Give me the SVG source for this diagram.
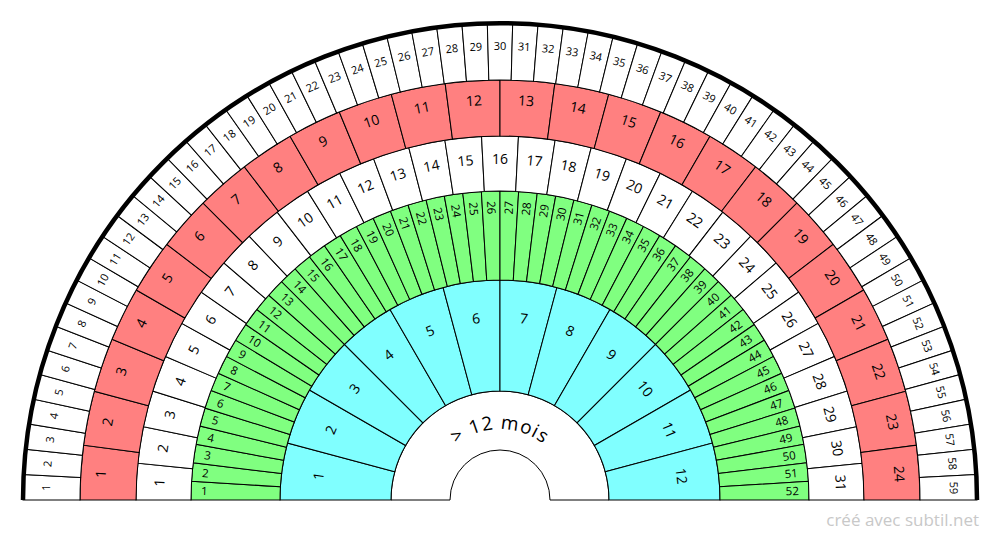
<svg xmlns="http://www.w3.org/2000/svg" width="1000" height="540" viewBox="0 0 1000 540">
<style>
path{stroke:#000;stroke-width:1}
.c path{fill:#80ffff}.g path{fill:#80ff80}.w path{fill:#fff}.r path{fill:#ff8080}.o path{fill:#fff}
#rim{fill:none;stroke:#000;stroke-width:4.5}
text{font-family:"Open Sans","DejaVu Sans",sans-serif;fill:#000}
.c text,.w text,.r text{font-size:14px;text-anchor:middle}
.o text{font-size:11px;text-anchor:middle}
.g text{font-size:11.5px}
.g .L{text-anchor:start}.g .R{text-anchor:end}
#credit{fill:#c8c8c8;font-size:17px;text-anchor:end}
</style>
<defs><path id="tp" d="M-71 0A71 71 0 0 1 71 0" style="fill:none;stroke:none"/></defs>
<g transform="translate(500 500)">
<g id="center"><path d="M-109 0A109 109 0 0 1 109 0L50 0A50 50 0 0 0-50 0Z" style="fill:#fff"/>
<text font-size="19" letter-spacing="1"><textPath href="#tp" startOffset="50%" text-anchor="middle">&gt; 12 mois</textPath></text></g>
<g id="cyan" class="c">
<g id="c1" transform="rotate(-82.5)"><path d="M-14.23-108.07L-28.72-218.12A220 220 0 0 1 28.72-218.12L14.23-108.07A109 109 0 0 0-14.23-108.07Z"/><text y="-178">1</text></g>
<g id="c2" transform="rotate(-67.5)"><path d="M-14.23-108.07L-28.72-218.12A220 220 0 0 1 28.72-218.12L14.23-108.07A109 109 0 0 0-14.23-108.07Z"/><text y="-178">2</text></g>
<g id="c3" transform="rotate(-52.5)"><path d="M-14.23-108.07L-28.72-218.12A220 220 0 0 1 28.72-218.12L14.23-108.07A109 109 0 0 0-14.23-108.07Z"/><text y="-178">3</text></g>
<g id="c4" transform="rotate(-37.5)"><path d="M-14.23-108.07L-28.72-218.12A220 220 0 0 1 28.72-218.12L14.23-108.07A109 109 0 0 0-14.23-108.07Z"/><text y="-178">4</text></g>
<g id="c5" transform="rotate(-22.5)"><path d="M-14.23-108.07L-28.72-218.12A220 220 0 0 1 28.72-218.12L14.23-108.07A109 109 0 0 0-14.23-108.07Z"/><text y="-178">5</text></g>
<g id="c6" transform="rotate(-7.5)"><path d="M-14.23-108.07L-28.72-218.12A220 220 0 0 1 28.72-218.12L14.23-108.07A109 109 0 0 0-14.23-108.07Z"/><text y="-178">6</text></g>
<g id="c7" transform="rotate(7.5)"><path d="M-14.23-108.07L-28.72-218.12A220 220 0 0 1 28.72-218.12L14.23-108.07A109 109 0 0 0-14.23-108.07Z"/><text y="-178">7</text></g>
<g id="c8" transform="rotate(22.5)"><path d="M-14.23-108.07L-28.72-218.12A220 220 0 0 1 28.72-218.12L14.23-108.07A109 109 0 0 0-14.23-108.07Z"/><text y="-178">8</text></g>
<g id="c9" transform="rotate(37.5)"><path d="M-14.23-108.07L-28.72-218.12A220 220 0 0 1 28.72-218.12L14.23-108.07A109 109 0 0 0-14.23-108.07Z"/><text y="-178">9</text></g>
<g id="c10" transform="rotate(52.5)"><path d="M-14.23-108.07L-28.72-218.12A220 220 0 0 1 28.72-218.12L14.23-108.07A109 109 0 0 0-14.23-108.07Z"/><text y="-178">10</text></g>
<g id="c11" transform="rotate(67.5)"><path d="M-14.23-108.07L-28.72-218.12A220 220 0 0 1 28.72-218.12L14.23-108.07A109 109 0 0 0-14.23-108.07Z"/><text y="-178">11</text></g>
<g id="c12" transform="rotate(82.5)"><path d="M-14.23-108.07L-28.72-218.12A220 220 0 0 1 28.72-218.12L14.23-108.07A109 109 0 0 0-14.23-108.07Z"/><text y="-178">12</text></g>
</g>
<g id="green" class="g">
<g id="g1" transform="rotate(-88.27)"><path d="M-6.64-219.90L-9.33-308.86A309 309 0 0 1 9.33-308.86L6.64-219.90A220 220 0 0 0-6.64-219.90Z"/><text class="L" transform="translate(0 -299) rotate(90)" y="4">1</text></g>
<g id="g2" transform="rotate(-84.81)"><path d="M-6.64-219.90L-9.33-308.86A309 309 0 0 1 9.33-308.86L6.64-219.90A220 220 0 0 0-6.64-219.90Z"/><text class="L" transform="translate(0 -299) rotate(90)" y="4">2</text></g>
<g id="g3" transform="rotate(-81.35)"><path d="M-6.64-219.90L-9.33-308.86A309 309 0 0 1 9.33-308.86L6.64-219.90A220 220 0 0 0-6.64-219.90Z"/><text class="L" transform="translate(0 -299) rotate(90)" y="4">3</text></g>
<g id="g4" transform="rotate(-77.88)"><path d="M-6.64-219.90L-9.33-308.86A309 309 0 0 1 9.33-308.86L6.64-219.90A220 220 0 0 0-6.64-219.90Z"/><text class="L" transform="translate(0 -299) rotate(90)" y="4">4</text></g>
<g id="g5" transform="rotate(-74.42)"><path d="M-6.64-219.90L-9.33-308.86A309 309 0 0 1 9.33-308.86L6.64-219.90A220 220 0 0 0-6.64-219.90Z"/><text class="L" transform="translate(0 -299) rotate(90)" y="4">5</text></g>
<g id="g6" transform="rotate(-70.96)"><path d="M-6.64-219.90L-9.33-308.86A309 309 0 0 1 9.33-308.86L6.64-219.90A220 220 0 0 0-6.64-219.90Z"/><text class="L" transform="translate(0 -299) rotate(90)" y="4">6</text></g>
<g id="g7" transform="rotate(-67.5)"><path d="M-6.64-219.90L-9.33-308.86A309 309 0 0 1 9.33-308.86L6.64-219.90A220 220 0 0 0-6.64-219.90Z"/><text class="L" transform="translate(0 -299) rotate(90)" y="4">7</text></g>
<g id="g8" transform="rotate(-64.04)"><path d="M-6.64-219.90L-9.33-308.86A309 309 0 0 1 9.33-308.86L6.64-219.90A220 220 0 0 0-6.64-219.90Z"/><text class="L" transform="translate(0 -299) rotate(90)" y="4">8</text></g>
<g id="g9" transform="rotate(-60.58)"><path d="M-6.64-219.90L-9.33-308.86A309 309 0 0 1 9.33-308.86L6.64-219.90A220 220 0 0 0-6.64-219.90Z"/><text class="L" transform="translate(0 -299) rotate(90)" y="4">9</text></g>
<g id="g10" transform="rotate(-57.12)"><path d="M-6.64-219.90L-9.33-308.86A309 309 0 0 1 9.33-308.86L6.64-219.90A220 220 0 0 0-6.64-219.90Z"/><text class="L" transform="translate(0 -299) rotate(90)" y="4">10</text></g>
<g id="g11" transform="rotate(-53.65)"><path d="M-6.64-219.90L-9.33-308.86A309 309 0 0 1 9.33-308.86L6.64-219.90A220 220 0 0 0-6.64-219.90Z"/><text class="L" transform="translate(0 -299) rotate(90)" y="4">11</text></g>
<g id="g12" transform="rotate(-50.19)"><path d="M-6.64-219.90L-9.33-308.86A309 309 0 0 1 9.33-308.86L6.64-219.90A220 220 0 0 0-6.64-219.90Z"/><text class="L" transform="translate(0 -299) rotate(90)" y="4">12</text></g>
<g id="g13" transform="rotate(-46.73)"><path d="M-6.64-219.90L-9.33-308.86A309 309 0 0 1 9.33-308.86L6.64-219.90A220 220 0 0 0-6.64-219.90Z"/><text class="L" transform="translate(0 -299) rotate(90)" y="4">13</text></g>
<g id="g14" transform="rotate(-43.27)"><path d="M-6.64-219.90L-9.33-308.86A309 309 0 0 1 9.33-308.86L6.64-219.90A220 220 0 0 0-6.64-219.90Z"/><text class="L" transform="translate(0 -299) rotate(90)" y="4">14</text></g>
<g id="g15" transform="rotate(-39.81)"><path d="M-6.64-219.90L-9.33-308.86A309 309 0 0 1 9.33-308.86L6.64-219.90A220 220 0 0 0-6.64-219.90Z"/><text class="L" transform="translate(0 -299) rotate(90)" y="4">15</text></g>
<g id="g16" transform="rotate(-36.35)"><path d="M-6.64-219.90L-9.33-308.86A309 309 0 0 1 9.33-308.86L6.64-219.90A220 220 0 0 0-6.64-219.90Z"/><text class="L" transform="translate(0 -299) rotate(90)" y="4">16</text></g>
<g id="g17" transform="rotate(-32.88)"><path d="M-6.64-219.90L-9.33-308.86A309 309 0 0 1 9.33-308.86L6.64-219.90A220 220 0 0 0-6.64-219.90Z"/><text class="L" transform="translate(0 -299) rotate(90)" y="4">17</text></g>
<g id="g18" transform="rotate(-29.42)"><path d="M-6.64-219.90L-9.33-308.86A309 309 0 0 1 9.33-308.86L6.64-219.90A220 220 0 0 0-6.64-219.90Z"/><text class="L" transform="translate(0 -299) rotate(90)" y="4">18</text></g>
<g id="g19" transform="rotate(-25.96)"><path d="M-6.64-219.90L-9.33-308.86A309 309 0 0 1 9.33-308.86L6.64-219.90A220 220 0 0 0-6.64-219.90Z"/><text class="L" transform="translate(0 -299) rotate(90)" y="4">19</text></g>
<g id="g20" transform="rotate(-22.5)"><path d="M-6.64-219.90L-9.33-308.86A309 309 0 0 1 9.33-308.86L6.64-219.90A220 220 0 0 0-6.64-219.90Z"/><text class="L" transform="translate(0 -299) rotate(90)" y="4">20</text></g>
<g id="g21" transform="rotate(-19.04)"><path d="M-6.64-219.90L-9.33-308.86A309 309 0 0 1 9.33-308.86L6.64-219.90A220 220 0 0 0-6.64-219.90Z"/><text class="L" transform="translate(0 -299) rotate(90)" y="4">21</text></g>
<g id="g22" transform="rotate(-15.58)"><path d="M-6.64-219.90L-9.33-308.86A309 309 0 0 1 9.33-308.86L6.64-219.90A220 220 0 0 0-6.64-219.90Z"/><text class="L" transform="translate(0 -299) rotate(90)" y="4">22</text></g>
<g id="g23" transform="rotate(-12.12)"><path d="M-6.64-219.90L-9.33-308.86A309 309 0 0 1 9.33-308.86L6.64-219.90A220 220 0 0 0-6.64-219.90Z"/><text class="L" transform="translate(0 -299) rotate(90)" y="4">23</text></g>
<g id="g24" transform="rotate(-8.65)"><path d="M-6.64-219.90L-9.33-308.86A309 309 0 0 1 9.33-308.86L6.64-219.90A220 220 0 0 0-6.64-219.90Z"/><text class="L" transform="translate(0 -299) rotate(90)" y="4">24</text></g>
<g id="g25" transform="rotate(-5.19)"><path d="M-6.64-219.90L-9.33-308.86A309 309 0 0 1 9.33-308.86L6.64-219.90A220 220 0 0 0-6.64-219.90Z"/><text class="L" transform="translate(0 -299) rotate(90)" y="4">25</text></g>
<g id="g26" transform="rotate(-1.73)"><path d="M-6.64-219.90L-9.33-308.86A309 309 0 0 1 9.33-308.86L6.64-219.90A220 220 0 0 0-6.64-219.90Z"/><text class="L" transform="translate(0 -299) rotate(90)" y="4">26</text></g>
<g id="g27" transform="rotate(1.73)"><path d="M-6.64-219.90L-9.33-308.86A309 309 0 0 1 9.33-308.86L6.64-219.90A220 220 0 0 0-6.64-219.90Z"/><text class="R" transform="translate(0 -299) rotate(-90)" y="4">27</text></g>
<g id="g28" transform="rotate(5.19)"><path d="M-6.64-219.90L-9.33-308.86A309 309 0 0 1 9.33-308.86L6.64-219.90A220 220 0 0 0-6.64-219.90Z"/><text class="R" transform="translate(0 -299) rotate(-90)" y="4">28</text></g>
<g id="g29" transform="rotate(8.65)"><path d="M-6.64-219.90L-9.33-308.86A309 309 0 0 1 9.33-308.86L6.64-219.90A220 220 0 0 0-6.64-219.90Z"/><text class="R" transform="translate(0 -299) rotate(-90)" y="4">29</text></g>
<g id="g30" transform="rotate(12.12)"><path d="M-6.64-219.90L-9.33-308.86A309 309 0 0 1 9.33-308.86L6.64-219.90A220 220 0 0 0-6.64-219.90Z"/><text class="R" transform="translate(0 -299) rotate(-90)" y="4">30</text></g>
<g id="g31" transform="rotate(15.58)"><path d="M-6.64-219.90L-9.33-308.86A309 309 0 0 1 9.33-308.86L6.64-219.90A220 220 0 0 0-6.64-219.90Z"/><text class="R" transform="translate(0 -299) rotate(-90)" y="4">31</text></g>
<g id="g32" transform="rotate(19.04)"><path d="M-6.64-219.90L-9.33-308.86A309 309 0 0 1 9.33-308.86L6.64-219.90A220 220 0 0 0-6.64-219.90Z"/><text class="R" transform="translate(0 -299) rotate(-90)" y="4">32</text></g>
<g id="g33" transform="rotate(22.5)"><path d="M-6.64-219.90L-9.33-308.86A309 309 0 0 1 9.33-308.86L6.64-219.90A220 220 0 0 0-6.64-219.90Z"/><text class="R" transform="translate(0 -299) rotate(-90)" y="4">33</text></g>
<g id="g34" transform="rotate(25.96)"><path d="M-6.64-219.90L-9.33-308.86A309 309 0 0 1 9.33-308.86L6.64-219.90A220 220 0 0 0-6.64-219.90Z"/><text class="R" transform="translate(0 -299) rotate(-90)" y="4">34</text></g>
<g id="g35" transform="rotate(29.42)"><path d="M-6.64-219.90L-9.33-308.86A309 309 0 0 1 9.33-308.86L6.64-219.90A220 220 0 0 0-6.64-219.90Z"/><text class="R" transform="translate(0 -299) rotate(-90)" y="4">35</text></g>
<g id="g36" transform="rotate(32.88)"><path d="M-6.64-219.90L-9.33-308.86A309 309 0 0 1 9.33-308.86L6.64-219.90A220 220 0 0 0-6.64-219.90Z"/><text class="R" transform="translate(0 -299) rotate(-90)" y="4">36</text></g>
<g id="g37" transform="rotate(36.35)"><path d="M-6.64-219.90L-9.33-308.86A309 309 0 0 1 9.33-308.86L6.64-219.90A220 220 0 0 0-6.64-219.90Z"/><text class="R" transform="translate(0 -299) rotate(-90)" y="4">37</text></g>
<g id="g38" transform="rotate(39.81)"><path d="M-6.64-219.90L-9.33-308.86A309 309 0 0 1 9.33-308.86L6.64-219.90A220 220 0 0 0-6.64-219.90Z"/><text class="R" transform="translate(0 -299) rotate(-90)" y="4">38</text></g>
<g id="g39" transform="rotate(43.27)"><path d="M-6.64-219.90L-9.33-308.86A309 309 0 0 1 9.33-308.86L6.64-219.90A220 220 0 0 0-6.64-219.90Z"/><text class="R" transform="translate(0 -299) rotate(-90)" y="4">39</text></g>
<g id="g40" transform="rotate(46.73)"><path d="M-6.64-219.90L-9.33-308.86A309 309 0 0 1 9.33-308.86L6.64-219.90A220 220 0 0 0-6.64-219.90Z"/><text class="R" transform="translate(0 -299) rotate(-90)" y="4">40</text></g>
<g id="g41" transform="rotate(50.19)"><path d="M-6.64-219.90L-9.33-308.86A309 309 0 0 1 9.33-308.86L6.64-219.90A220 220 0 0 0-6.64-219.90Z"/><text class="R" transform="translate(0 -299) rotate(-90)" y="4">41</text></g>
<g id="g42" transform="rotate(53.65)"><path d="M-6.64-219.90L-9.33-308.86A309 309 0 0 1 9.33-308.86L6.64-219.90A220 220 0 0 0-6.64-219.90Z"/><text class="R" transform="translate(0 -299) rotate(-90)" y="4">42</text></g>
<g id="g43" transform="rotate(57.12)"><path d="M-6.64-219.90L-9.33-308.86A309 309 0 0 1 9.33-308.86L6.64-219.90A220 220 0 0 0-6.64-219.90Z"/><text class="R" transform="translate(0 -299) rotate(-90)" y="4">43</text></g>
<g id="g44" transform="rotate(60.58)"><path d="M-6.64-219.90L-9.33-308.86A309 309 0 0 1 9.33-308.86L6.64-219.90A220 220 0 0 0-6.64-219.90Z"/><text class="R" transform="translate(0 -299) rotate(-90)" y="4">44</text></g>
<g id="g45" transform="rotate(64.04)"><path d="M-6.64-219.90L-9.33-308.86A309 309 0 0 1 9.33-308.86L6.64-219.90A220 220 0 0 0-6.64-219.90Z"/><text class="R" transform="translate(0 -299) rotate(-90)" y="4">45</text></g>
<g id="g46" transform="rotate(67.5)"><path d="M-6.64-219.90L-9.33-308.86A309 309 0 0 1 9.33-308.86L6.64-219.90A220 220 0 0 0-6.64-219.90Z"/><text class="R" transform="translate(0 -299) rotate(-90)" y="4">46</text></g>
<g id="g47" transform="rotate(70.96)"><path d="M-6.64-219.90L-9.33-308.86A309 309 0 0 1 9.33-308.86L6.64-219.90A220 220 0 0 0-6.64-219.90Z"/><text class="R" transform="translate(0 -299) rotate(-90)" y="4">47</text></g>
<g id="g48" transform="rotate(74.42)"><path d="M-6.64-219.90L-9.33-308.86A309 309 0 0 1 9.33-308.86L6.64-219.90A220 220 0 0 0-6.64-219.90Z"/><text class="R" transform="translate(0 -299) rotate(-90)" y="4">48</text></g>
<g id="g49" transform="rotate(77.88)"><path d="M-6.64-219.90L-9.33-308.86A309 309 0 0 1 9.33-308.86L6.64-219.90A220 220 0 0 0-6.64-219.90Z"/><text class="R" transform="translate(0 -299) rotate(-90)" y="4">49</text></g>
<g id="g50" transform="rotate(81.35)"><path d="M-6.64-219.90L-9.33-308.86A309 309 0 0 1 9.33-308.86L6.64-219.90A220 220 0 0 0-6.64-219.90Z"/><text class="R" transform="translate(0 -299) rotate(-90)" y="4">50</text></g>
<g id="g51" transform="rotate(84.81)"><path d="M-6.64-219.90L-9.33-308.86A309 309 0 0 1 9.33-308.86L6.64-219.90A220 220 0 0 0-6.64-219.90Z"/><text class="R" transform="translate(0 -299) rotate(-90)" y="4">51</text></g>
<g id="g52" transform="rotate(88.27)"><path d="M-6.64-219.90L-9.33-308.86A309 309 0 0 1 9.33-308.86L6.64-219.90A220 220 0 0 0-6.64-219.90Z"/><text class="R" transform="translate(0 -299) rotate(-90)" y="4">52</text></g>
</g>
<g id="white31" class="w">
<g id="w1" transform="rotate(-87.10)"><path d="M-15.65-308.60L-18.44-363.53A364 364 0 0 1 18.44-363.53L15.65-308.60A309 309 0 0 0-15.65-308.60Z"/><text y="-336">1</text></g>
<g id="w2" transform="rotate(-81.29)"><path d="M-15.65-308.60L-18.44-363.53A364 364 0 0 1 18.44-363.53L15.65-308.60A309 309 0 0 0-15.65-308.60Z"/><text y="-336">2</text></g>
<g id="w3" transform="rotate(-75.48)"><path d="M-15.65-308.60L-18.44-363.53A364 364 0 0 1 18.44-363.53L15.65-308.60A309 309 0 0 0-15.65-308.60Z"/><text y="-336">3</text></g>
<g id="w4" transform="rotate(-69.68)"><path d="M-15.65-308.60L-18.44-363.53A364 364 0 0 1 18.44-363.53L15.65-308.60A309 309 0 0 0-15.65-308.60Z"/><text y="-336">4</text></g>
<g id="w5" transform="rotate(-63.87)"><path d="M-15.65-308.60L-18.44-363.53A364 364 0 0 1 18.44-363.53L15.65-308.60A309 309 0 0 0-15.65-308.60Z"/><text y="-336">5</text></g>
<g id="w6" transform="rotate(-58.06)"><path d="M-15.65-308.60L-18.44-363.53A364 364 0 0 1 18.44-363.53L15.65-308.60A309 309 0 0 0-15.65-308.60Z"/><text y="-336">6</text></g>
<g id="w7" transform="rotate(-52.26)"><path d="M-15.65-308.60L-18.44-363.53A364 364 0 0 1 18.44-363.53L15.65-308.60A309 309 0 0 0-15.65-308.60Z"/><text y="-336">7</text></g>
<g id="w8" transform="rotate(-46.45)"><path d="M-15.65-308.60L-18.44-363.53A364 364 0 0 1 18.44-363.53L15.65-308.60A309 309 0 0 0-15.65-308.60Z"/><text y="-336">8</text></g>
<g id="w9" transform="rotate(-40.65)"><path d="M-15.65-308.60L-18.44-363.53A364 364 0 0 1 18.44-363.53L15.65-308.60A309 309 0 0 0-15.65-308.60Z"/><text y="-336">9</text></g>
<g id="w10" transform="rotate(-34.84)"><path d="M-15.65-308.60L-18.44-363.53A364 364 0 0 1 18.44-363.53L15.65-308.60A309 309 0 0 0-15.65-308.60Z"/><text y="-336">10</text></g>
<g id="w11" transform="rotate(-29.03)"><path d="M-15.65-308.60L-18.44-363.53A364 364 0 0 1 18.44-363.53L15.65-308.60A309 309 0 0 0-15.65-308.60Z"/><text y="-336">11</text></g>
<g id="w12" transform="rotate(-23.23)"><path d="M-15.65-308.60L-18.44-363.53A364 364 0 0 1 18.44-363.53L15.65-308.60A309 309 0 0 0-15.65-308.60Z"/><text y="-336">12</text></g>
<g id="w13" transform="rotate(-17.42)"><path d="M-15.65-308.60L-18.44-363.53A364 364 0 0 1 18.44-363.53L15.65-308.60A309 309 0 0 0-15.65-308.60Z"/><text y="-336">13</text></g>
<g id="w14" transform="rotate(-11.61)"><path d="M-15.65-308.60L-18.44-363.53A364 364 0 0 1 18.44-363.53L15.65-308.60A309 309 0 0 0-15.65-308.60Z"/><text y="-336">14</text></g>
<g id="w15" transform="rotate(-5.81)"><path d="M-15.65-308.60L-18.44-363.53A364 364 0 0 1 18.44-363.53L15.65-308.60A309 309 0 0 0-15.65-308.60Z"/><text y="-336">15</text></g>
<g id="w16" transform="rotate(0)"><path d="M-15.65-308.60L-18.44-363.53A364 364 0 0 1 18.44-363.53L15.65-308.60A309 309 0 0 0-15.65-308.60Z"/><text y="-336">16</text></g>
<g id="w17" transform="rotate(5.81)"><path d="M-15.65-308.60L-18.44-363.53A364 364 0 0 1 18.44-363.53L15.65-308.60A309 309 0 0 0-15.65-308.60Z"/><text y="-336">17</text></g>
<g id="w18" transform="rotate(11.61)"><path d="M-15.65-308.60L-18.44-363.53A364 364 0 0 1 18.44-363.53L15.65-308.60A309 309 0 0 0-15.65-308.60Z"/><text y="-336">18</text></g>
<g id="w19" transform="rotate(17.42)"><path d="M-15.65-308.60L-18.44-363.53A364 364 0 0 1 18.44-363.53L15.65-308.60A309 309 0 0 0-15.65-308.60Z"/><text y="-336">19</text></g>
<g id="w20" transform="rotate(23.23)"><path d="M-15.65-308.60L-18.44-363.53A364 364 0 0 1 18.44-363.53L15.65-308.60A309 309 0 0 0-15.65-308.60Z"/><text y="-336">20</text></g>
<g id="w21" transform="rotate(29.03)"><path d="M-15.65-308.60L-18.44-363.53A364 364 0 0 1 18.44-363.53L15.65-308.60A309 309 0 0 0-15.65-308.60Z"/><text y="-336">21</text></g>
<g id="w22" transform="rotate(34.84)"><path d="M-15.65-308.60L-18.44-363.53A364 364 0 0 1 18.44-363.53L15.65-308.60A309 309 0 0 0-15.65-308.60Z"/><text y="-336">22</text></g>
<g id="w23" transform="rotate(40.65)"><path d="M-15.65-308.60L-18.44-363.53A364 364 0 0 1 18.44-363.53L15.65-308.60A309 309 0 0 0-15.65-308.60Z"/><text y="-336">23</text></g>
<g id="w24" transform="rotate(46.45)"><path d="M-15.65-308.60L-18.44-363.53A364 364 0 0 1 18.44-363.53L15.65-308.60A309 309 0 0 0-15.65-308.60Z"/><text y="-336">24</text></g>
<g id="w25" transform="rotate(52.26)"><path d="M-15.65-308.60L-18.44-363.53A364 364 0 0 1 18.44-363.53L15.65-308.60A309 309 0 0 0-15.65-308.60Z"/><text y="-336">25</text></g>
<g id="w26" transform="rotate(58.06)"><path d="M-15.65-308.60L-18.44-363.53A364 364 0 0 1 18.44-363.53L15.65-308.60A309 309 0 0 0-15.65-308.60Z"/><text y="-336">26</text></g>
<g id="w27" transform="rotate(63.87)"><path d="M-15.65-308.60L-18.44-363.53A364 364 0 0 1 18.44-363.53L15.65-308.60A309 309 0 0 0-15.65-308.60Z"/><text y="-336">27</text></g>
<g id="w28" transform="rotate(69.68)"><path d="M-15.65-308.60L-18.44-363.53A364 364 0 0 1 18.44-363.53L15.65-308.60A309 309 0 0 0-15.65-308.60Z"/><text y="-336">28</text></g>
<g id="w29" transform="rotate(75.48)"><path d="M-15.65-308.60L-18.44-363.53A364 364 0 0 1 18.44-363.53L15.65-308.60A309 309 0 0 0-15.65-308.60Z"/><text y="-336">29</text></g>
<g id="w30" transform="rotate(81.29)"><path d="M-15.65-308.60L-18.44-363.53A364 364 0 0 1 18.44-363.53L15.65-308.60A309 309 0 0 0-15.65-308.60Z"/><text y="-336">30</text></g>
<g id="w31" transform="rotate(87.10)"><path d="M-15.65-308.60L-18.44-363.53A364 364 0 0 1 18.44-363.53L15.65-308.60A309 309 0 0 0-15.65-308.60Z"/><text y="-336">31</text></g>
</g>
<g id="red" class="r">
<g id="r1" transform="rotate(-86.25)"><path d="M-23.81-363.22L-27.47-419.10A420 420 0 0 1 27.47-419.10L23.81-363.22A364 364 0 0 0-23.81-363.22Z"/><text y="-395">1</text></g>
<g id="r2" transform="rotate(-78.75)"><path d="M-23.81-363.22L-27.47-419.10A420 420 0 0 1 27.47-419.10L23.81-363.22A364 364 0 0 0-23.81-363.22Z"/><text y="-395">2</text></g>
<g id="r3" transform="rotate(-71.25)"><path d="M-23.81-363.22L-27.47-419.10A420 420 0 0 1 27.47-419.10L23.81-363.22A364 364 0 0 0-23.81-363.22Z"/><text y="-395">3</text></g>
<g id="r4" transform="rotate(-63.75)"><path d="M-23.81-363.22L-27.47-419.10A420 420 0 0 1 27.47-419.10L23.81-363.22A364 364 0 0 0-23.81-363.22Z"/><text y="-395">4</text></g>
<g id="r5" transform="rotate(-56.25)"><path d="M-23.81-363.22L-27.47-419.10A420 420 0 0 1 27.47-419.10L23.81-363.22A364 364 0 0 0-23.81-363.22Z"/><text y="-395">5</text></g>
<g id="r6" transform="rotate(-48.75)"><path d="M-23.81-363.22L-27.47-419.10A420 420 0 0 1 27.47-419.10L23.81-363.22A364 364 0 0 0-23.81-363.22Z"/><text y="-395">6</text></g>
<g id="r7" transform="rotate(-41.25)"><path d="M-23.81-363.22L-27.47-419.10A420 420 0 0 1 27.47-419.10L23.81-363.22A364 364 0 0 0-23.81-363.22Z"/><text y="-395">7</text></g>
<g id="r8" transform="rotate(-33.75)"><path d="M-23.81-363.22L-27.47-419.10A420 420 0 0 1 27.47-419.10L23.81-363.22A364 364 0 0 0-23.81-363.22Z"/><text y="-395">8</text></g>
<g id="r9" transform="rotate(-26.25)"><path d="M-23.81-363.22L-27.47-419.10A420 420 0 0 1 27.47-419.10L23.81-363.22A364 364 0 0 0-23.81-363.22Z"/><text y="-395">9</text></g>
<g id="r10" transform="rotate(-18.75)"><path d="M-23.81-363.22L-27.47-419.10A420 420 0 0 1 27.47-419.10L23.81-363.22A364 364 0 0 0-23.81-363.22Z"/><text y="-395">10</text></g>
<g id="r11" transform="rotate(-11.25)"><path d="M-23.81-363.22L-27.47-419.10A420 420 0 0 1 27.47-419.10L23.81-363.22A364 364 0 0 0-23.81-363.22Z"/><text y="-395">11</text></g>
<g id="r12" transform="rotate(-3.75)"><path d="M-23.81-363.22L-27.47-419.10A420 420 0 0 1 27.47-419.10L23.81-363.22A364 364 0 0 0-23.81-363.22Z"/><text y="-395">12</text></g>
<g id="r13" transform="rotate(3.75)"><path d="M-23.81-363.22L-27.47-419.10A420 420 0 0 1 27.47-419.10L23.81-363.22A364 364 0 0 0-23.81-363.22Z"/><text y="-395">13</text></g>
<g id="r14" transform="rotate(11.25)"><path d="M-23.81-363.22L-27.47-419.10A420 420 0 0 1 27.47-419.10L23.81-363.22A364 364 0 0 0-23.81-363.22Z"/><text y="-395">14</text></g>
<g id="r15" transform="rotate(18.75)"><path d="M-23.81-363.22L-27.47-419.10A420 420 0 0 1 27.47-419.10L23.81-363.22A364 364 0 0 0-23.81-363.22Z"/><text y="-395">15</text></g>
<g id="r16" transform="rotate(26.25)"><path d="M-23.81-363.22L-27.47-419.10A420 420 0 0 1 27.47-419.10L23.81-363.22A364 364 0 0 0-23.81-363.22Z"/><text y="-395">16</text></g>
<g id="r17" transform="rotate(33.75)"><path d="M-23.81-363.22L-27.47-419.10A420 420 0 0 1 27.47-419.10L23.81-363.22A364 364 0 0 0-23.81-363.22Z"/><text y="-395">17</text></g>
<g id="r18" transform="rotate(41.25)"><path d="M-23.81-363.22L-27.47-419.10A420 420 0 0 1 27.47-419.10L23.81-363.22A364 364 0 0 0-23.81-363.22Z"/><text y="-395">18</text></g>
<g id="r19" transform="rotate(48.75)"><path d="M-23.81-363.22L-27.47-419.10A420 420 0 0 1 27.47-419.10L23.81-363.22A364 364 0 0 0-23.81-363.22Z"/><text y="-395">19</text></g>
<g id="r20" transform="rotate(56.25)"><path d="M-23.81-363.22L-27.47-419.10A420 420 0 0 1 27.47-419.10L23.81-363.22A364 364 0 0 0-23.81-363.22Z"/><text y="-395">20</text></g>
<g id="r21" transform="rotate(63.75)"><path d="M-23.81-363.22L-27.47-419.10A420 420 0 0 1 27.47-419.10L23.81-363.22A364 364 0 0 0-23.81-363.22Z"/><text y="-395">21</text></g>
<g id="r22" transform="rotate(71.25)"><path d="M-23.81-363.22L-27.47-419.10A420 420 0 0 1 27.47-419.10L23.81-363.22A364 364 0 0 0-23.81-363.22Z"/><text y="-395">22</text></g>
<g id="r23" transform="rotate(78.75)"><path d="M-23.81-363.22L-27.47-419.10A420 420 0 0 1 27.47-419.10L23.81-363.22A364 364 0 0 0-23.81-363.22Z"/><text y="-395">23</text></g>
<g id="r24" transform="rotate(86.25)"><path d="M-23.81-363.22L-27.47-419.10A420 420 0 0 1 27.47-419.10L23.81-363.22A364 364 0 0 0-23.81-363.22Z"/><text y="-395">24</text></g>
</g>
<g id="outer" class="o">
<g id="o1" transform="rotate(-88.47)"><path d="M-11.18-419.85L-12.70-476.83A477 477 0 0 1 12.70-476.83L11.18-419.85A420 420 0 0 0-11.18-419.85Z"/><text y="-450">1</text></g>
<g id="o2" transform="rotate(-85.42)"><path d="M-11.18-419.85L-12.70-476.83A477 477 0 0 1 12.70-476.83L11.18-419.85A420 420 0 0 0-11.18-419.85Z"/><text y="-450">2</text></g>
<g id="o3" transform="rotate(-82.37)"><path d="M-11.18-419.85L-12.70-476.83A477 477 0 0 1 12.70-476.83L11.18-419.85A420 420 0 0 0-11.18-419.85Z"/><text y="-450">3</text></g>
<g id="o4" transform="rotate(-79.32)"><path d="M-11.18-419.85L-12.70-476.83A477 477 0 0 1 12.70-476.83L11.18-419.85A420 420 0 0 0-11.18-419.85Z"/><text y="-450">4</text></g>
<g id="o5" transform="rotate(-76.27)"><path d="M-11.18-419.85L-12.70-476.83A477 477 0 0 1 12.70-476.83L11.18-419.85A420 420 0 0 0-11.18-419.85Z"/><text y="-450">5</text></g>
<g id="o6" transform="rotate(-73.22)"><path d="M-11.18-419.85L-12.70-476.83A477 477 0 0 1 12.70-476.83L11.18-419.85A420 420 0 0 0-11.18-419.85Z"/><text y="-450">6</text></g>
<g id="o7" transform="rotate(-70.17)"><path d="M-11.18-419.85L-12.70-476.83A477 477 0 0 1 12.70-476.83L11.18-419.85A420 420 0 0 0-11.18-419.85Z"/><text y="-450">7</text></g>
<g id="o8" transform="rotate(-67.12)"><path d="M-11.18-419.85L-12.70-476.83A477 477 0 0 1 12.70-476.83L11.18-419.85A420 420 0 0 0-11.18-419.85Z"/><text y="-450">8</text></g>
<g id="o9" transform="rotate(-64.07)"><path d="M-11.18-419.85L-12.70-476.83A477 477 0 0 1 12.70-476.83L11.18-419.85A420 420 0 0 0-11.18-419.85Z"/><text y="-450">9</text></g>
<g id="o10" transform="rotate(-61.02)"><path d="M-11.18-419.85L-12.70-476.83A477 477 0 0 1 12.70-476.83L11.18-419.85A420 420 0 0 0-11.18-419.85Z"/><text y="-450">10</text></g>
<g id="o11" transform="rotate(-57.97)"><path d="M-11.18-419.85L-12.70-476.83A477 477 0 0 1 12.70-476.83L11.18-419.85A420 420 0 0 0-11.18-419.85Z"/><text y="-450">11</text></g>
<g id="o12" transform="rotate(-54.92)"><path d="M-11.18-419.85L-12.70-476.83A477 477 0 0 1 12.70-476.83L11.18-419.85A420 420 0 0 0-11.18-419.85Z"/><text y="-450">12</text></g>
<g id="o13" transform="rotate(-51.86)"><path d="M-11.18-419.85L-12.70-476.83A477 477 0 0 1 12.70-476.83L11.18-419.85A420 420 0 0 0-11.18-419.85Z"/><text y="-450">13</text></g>
<g id="o14" transform="rotate(-48.81)"><path d="M-11.18-419.85L-12.70-476.83A477 477 0 0 1 12.70-476.83L11.18-419.85A420 420 0 0 0-11.18-419.85Z"/><text y="-450">14</text></g>
<g id="o15" transform="rotate(-45.76)"><path d="M-11.18-419.85L-12.70-476.83A477 477 0 0 1 12.70-476.83L11.18-419.85A420 420 0 0 0-11.18-419.85Z"/><text y="-450">15</text></g>
<g id="o16" transform="rotate(-42.71)"><path d="M-11.18-419.85L-12.70-476.83A477 477 0 0 1 12.70-476.83L11.18-419.85A420 420 0 0 0-11.18-419.85Z"/><text y="-450">16</text></g>
<g id="o17" transform="rotate(-39.66)"><path d="M-11.18-419.85L-12.70-476.83A477 477 0 0 1 12.70-476.83L11.18-419.85A420 420 0 0 0-11.18-419.85Z"/><text y="-450">17</text></g>
<g id="o18" transform="rotate(-36.61)"><path d="M-11.18-419.85L-12.70-476.83A477 477 0 0 1 12.70-476.83L11.18-419.85A420 420 0 0 0-11.18-419.85Z"/><text y="-450">18</text></g>
<g id="o19" transform="rotate(-33.56)"><path d="M-11.18-419.85L-12.70-476.83A477 477 0 0 1 12.70-476.83L11.18-419.85A420 420 0 0 0-11.18-419.85Z"/><text y="-450">19</text></g>
<g id="o20" transform="rotate(-30.51)"><path d="M-11.18-419.85L-12.70-476.83A477 477 0 0 1 12.70-476.83L11.18-419.85A420 420 0 0 0-11.18-419.85Z"/><text y="-450">20</text></g>
<g id="o21" transform="rotate(-27.46)"><path d="M-11.18-419.85L-12.70-476.83A477 477 0 0 1 12.70-476.83L11.18-419.85A420 420 0 0 0-11.18-419.85Z"/><text y="-450">21</text></g>
<g id="o22" transform="rotate(-24.41)"><path d="M-11.18-419.85L-12.70-476.83A477 477 0 0 1 12.70-476.83L11.18-419.85A420 420 0 0 0-11.18-419.85Z"/><text y="-450">22</text></g>
<g id="o23" transform="rotate(-21.36)"><path d="M-11.18-419.85L-12.70-476.83A477 477 0 0 1 12.70-476.83L11.18-419.85A420 420 0 0 0-11.18-419.85Z"/><text y="-450">23</text></g>
<g id="o24" transform="rotate(-18.31)"><path d="M-11.18-419.85L-12.70-476.83A477 477 0 0 1 12.70-476.83L11.18-419.85A420 420 0 0 0-11.18-419.85Z"/><text y="-450">24</text></g>
<g id="o25" transform="rotate(-15.25)"><path d="M-11.18-419.85L-12.70-476.83A477 477 0 0 1 12.70-476.83L11.18-419.85A420 420 0 0 0-11.18-419.85Z"/><text y="-450">25</text></g>
<g id="o26" transform="rotate(-12.20)"><path d="M-11.18-419.85L-12.70-476.83A477 477 0 0 1 12.70-476.83L11.18-419.85A420 420 0 0 0-11.18-419.85Z"/><text y="-450">26</text></g>
<g id="o27" transform="rotate(-9.15)"><path d="M-11.18-419.85L-12.70-476.83A477 477 0 0 1 12.70-476.83L11.18-419.85A420 420 0 0 0-11.18-419.85Z"/><text y="-450">27</text></g>
<g id="o28" transform="rotate(-6.10)"><path d="M-11.18-419.85L-12.70-476.83A477 477 0 0 1 12.70-476.83L11.18-419.85A420 420 0 0 0-11.18-419.85Z"/><text y="-450">28</text></g>
<g id="o29" transform="rotate(-3.05)"><path d="M-11.18-419.85L-12.70-476.83A477 477 0 0 1 12.70-476.83L11.18-419.85A420 420 0 0 0-11.18-419.85Z"/><text y="-450">29</text></g>
<g id="o30" transform="rotate(0)"><path d="M-11.18-419.85L-12.70-476.83A477 477 0 0 1 12.70-476.83L11.18-419.85A420 420 0 0 0-11.18-419.85Z"/><text y="-450">30</text></g>
<g id="o31" transform="rotate(3.05)"><path d="M-11.18-419.85L-12.70-476.83A477 477 0 0 1 12.70-476.83L11.18-419.85A420 420 0 0 0-11.18-419.85Z"/><text y="-450">31</text></g>
<g id="o32" transform="rotate(6.10)"><path d="M-11.18-419.85L-12.70-476.83A477 477 0 0 1 12.70-476.83L11.18-419.85A420 420 0 0 0-11.18-419.85Z"/><text y="-450">32</text></g>
<g id="o33" transform="rotate(9.15)"><path d="M-11.18-419.85L-12.70-476.83A477 477 0 0 1 12.70-476.83L11.18-419.85A420 420 0 0 0-11.18-419.85Z"/><text y="-450">33</text></g>
<g id="o34" transform="rotate(12.20)"><path d="M-11.18-419.85L-12.70-476.83A477 477 0 0 1 12.70-476.83L11.18-419.85A420 420 0 0 0-11.18-419.85Z"/><text y="-450">34</text></g>
<g id="o35" transform="rotate(15.25)"><path d="M-11.18-419.85L-12.70-476.83A477 477 0 0 1 12.70-476.83L11.18-419.85A420 420 0 0 0-11.18-419.85Z"/><text y="-450">35</text></g>
<g id="o36" transform="rotate(18.31)"><path d="M-11.18-419.85L-12.70-476.83A477 477 0 0 1 12.70-476.83L11.18-419.85A420 420 0 0 0-11.18-419.85Z"/><text y="-450">36</text></g>
<g id="o37" transform="rotate(21.36)"><path d="M-11.18-419.85L-12.70-476.83A477 477 0 0 1 12.70-476.83L11.18-419.85A420 420 0 0 0-11.18-419.85Z"/><text y="-450">37</text></g>
<g id="o38" transform="rotate(24.41)"><path d="M-11.18-419.85L-12.70-476.83A477 477 0 0 1 12.70-476.83L11.18-419.85A420 420 0 0 0-11.18-419.85Z"/><text y="-450">38</text></g>
<g id="o39" transform="rotate(27.46)"><path d="M-11.18-419.85L-12.70-476.83A477 477 0 0 1 12.70-476.83L11.18-419.85A420 420 0 0 0-11.18-419.85Z"/><text y="-450">39</text></g>
<g id="o40" transform="rotate(30.51)"><path d="M-11.18-419.85L-12.70-476.83A477 477 0 0 1 12.70-476.83L11.18-419.85A420 420 0 0 0-11.18-419.85Z"/><text y="-450">40</text></g>
<g id="o41" transform="rotate(33.56)"><path d="M-11.18-419.85L-12.70-476.83A477 477 0 0 1 12.70-476.83L11.18-419.85A420 420 0 0 0-11.18-419.85Z"/><text y="-450">41</text></g>
<g id="o42" transform="rotate(36.61)"><path d="M-11.18-419.85L-12.70-476.83A477 477 0 0 1 12.70-476.83L11.18-419.85A420 420 0 0 0-11.18-419.85Z"/><text y="-450">42</text></g>
<g id="o43" transform="rotate(39.66)"><path d="M-11.18-419.85L-12.70-476.83A477 477 0 0 1 12.70-476.83L11.18-419.85A420 420 0 0 0-11.18-419.85Z"/><text y="-450">43</text></g>
<g id="o44" transform="rotate(42.71)"><path d="M-11.18-419.85L-12.70-476.83A477 477 0 0 1 12.70-476.83L11.18-419.85A420 420 0 0 0-11.18-419.85Z"/><text y="-450">44</text></g>
<g id="o45" transform="rotate(45.76)"><path d="M-11.18-419.85L-12.70-476.83A477 477 0 0 1 12.70-476.83L11.18-419.85A420 420 0 0 0-11.18-419.85Z"/><text y="-450">45</text></g>
<g id="o46" transform="rotate(48.81)"><path d="M-11.18-419.85L-12.70-476.83A477 477 0 0 1 12.70-476.83L11.18-419.85A420 420 0 0 0-11.18-419.85Z"/><text y="-450">46</text></g>
<g id="o47" transform="rotate(51.86)"><path d="M-11.18-419.85L-12.70-476.83A477 477 0 0 1 12.70-476.83L11.18-419.85A420 420 0 0 0-11.18-419.85Z"/><text y="-450">47</text></g>
<g id="o48" transform="rotate(54.92)"><path d="M-11.18-419.85L-12.70-476.83A477 477 0 0 1 12.70-476.83L11.18-419.85A420 420 0 0 0-11.18-419.85Z"/><text y="-450">48</text></g>
<g id="o49" transform="rotate(57.97)"><path d="M-11.18-419.85L-12.70-476.83A477 477 0 0 1 12.70-476.83L11.18-419.85A420 420 0 0 0-11.18-419.85Z"/><text y="-450">49</text></g>
<g id="o50" transform="rotate(61.02)"><path d="M-11.18-419.85L-12.70-476.83A477 477 0 0 1 12.70-476.83L11.18-419.85A420 420 0 0 0-11.18-419.85Z"/><text y="-450">50</text></g>
<g id="o51" transform="rotate(64.07)"><path d="M-11.18-419.85L-12.70-476.83A477 477 0 0 1 12.70-476.83L11.18-419.85A420 420 0 0 0-11.18-419.85Z"/><text y="-450">51</text></g>
<g id="o52" transform="rotate(67.12)"><path d="M-11.18-419.85L-12.70-476.83A477 477 0 0 1 12.70-476.83L11.18-419.85A420 420 0 0 0-11.18-419.85Z"/><text y="-450">52</text></g>
<g id="o53" transform="rotate(70.17)"><path d="M-11.18-419.85L-12.70-476.83A477 477 0 0 1 12.70-476.83L11.18-419.85A420 420 0 0 0-11.18-419.85Z"/><text y="-450">53</text></g>
<g id="o54" transform="rotate(73.22)"><path d="M-11.18-419.85L-12.70-476.83A477 477 0 0 1 12.70-476.83L11.18-419.85A420 420 0 0 0-11.18-419.85Z"/><text y="-450">54</text></g>
<g id="o55" transform="rotate(76.27)"><path d="M-11.18-419.85L-12.70-476.83A477 477 0 0 1 12.70-476.83L11.18-419.85A420 420 0 0 0-11.18-419.85Z"/><text y="-450">55</text></g>
<g id="o56" transform="rotate(79.32)"><path d="M-11.18-419.85L-12.70-476.83A477 477 0 0 1 12.70-476.83L11.18-419.85A420 420 0 0 0-11.18-419.85Z"/><text y="-450">56</text></g>
<g id="o57" transform="rotate(82.37)"><path d="M-11.18-419.85L-12.70-476.83A477 477 0 0 1 12.70-476.83L11.18-419.85A420 420 0 0 0-11.18-419.85Z"/><text y="-450">57</text></g>
<g id="o58" transform="rotate(85.42)"><path d="M-11.18-419.85L-12.70-476.83A477 477 0 0 1 12.70-476.83L11.18-419.85A420 420 0 0 0-11.18-419.85Z"/><text y="-450">58</text></g>
<g id="o59" transform="rotate(88.47)"><path d="M-11.18-419.85L-12.70-476.83A477 477 0 0 1 12.70-476.83L11.18-419.85A420 420 0 0 0-11.18-419.85Z"/><text y="-450">59</text></g>
</g>
<path id="rim" d="M-477 0A477 477 0 0 1 477 0"/>
</g>
<text id="credit" x="979" y="526">créé avec subtil.net</text>
</svg>
